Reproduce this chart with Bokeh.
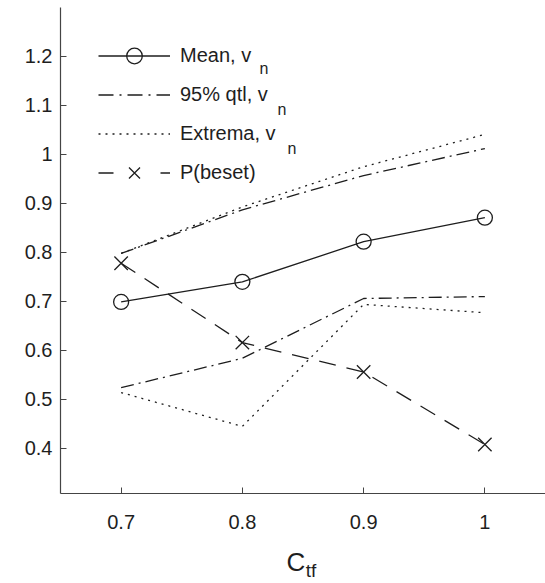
from bokeh.plotting import figure
from bokeh.models import Legend, LegendItem, Label, Range1d, FixedTicker, LinearAxis
from bokeh.embed import file_html
from bokeh.resources import INLINE

# ---- data ----
c_tf = [0.7, 0.8, 0.9, 1.0]
mean_vn = [0.699, 0.740, 0.822, 0.871]
q95_upper = [0.798, 0.887, 0.957, 1.012]
q95_lower = [0.524, 0.584, 0.706, 0.710]
ext_upper = [0.798, 0.893, 0.975, 1.041]
ext_lower = [0.514, 0.445, 0.694, 0.677]
p_beset = [0.778, 0.616, 0.556, 0.408]

x_ticks = [0.7, 0.8, 0.9, 1.0]
y_ticks = [0.4, 0.5, 0.6, 0.7, 0.8, 0.9, 1.0, 1.1, 1.2]
tick_labels = {0.7: "0.7", 0.8: "0.8", 0.9: "0.9", 1.0: "1",
               0.4: "0.4", 0.5: "0.5", 0.6: "0.6", 1.1: "1.1", 1.2: "1.2"}

FONT = "Liberation Sans"
INK = "#1e1e1e"
LW = 1.3
NAN = float("nan")
NB = "\u00a0"

p = figure(width=545, height=583, output_backend="svg", toolbar_location=None,
           x_range=Range1d(0.65, 1.05), y_range=Range1d(0.308, 1.3),
           min_border_left=60, min_border_right=0, min_border_top=7,
           min_border_bottom=89)
p.outline_line_color = None
p.xgrid.visible = False
p.ygrid.visible = False
p.background_fill_color = "white"
p.border_fill_color = "white"

for ax, ticks in ((p.xaxis[0], x_ticks), (p.yaxis[0], y_ticks)):
    ax.ticker = FixedTicker(ticks=ticks)
    ax.major_label_overrides = {t: tick_labels[t] for t in ticks}
    ax.major_tick_in = 6
    ax.major_tick_out = 0
    ax.minor_tick_line_color = None
    ax.axis_line_color = "#444444"
    ax.major_tick_line_color = "#444444"
    ax.axis_line_width = 1.2
    ax.major_label_text_font = FONT
    ax.major_label_text_font_size = "20px"
    ax.major_label_text_color = INK
p.xaxis.major_label_standoff = 21
p.yaxis.major_label_standoff = 8

# x-axis label C with subscript tf (second, label-only axis below)
xa = p.xaxis[0]
xa.axis_label = "C" + NB * 2
xa.axis_label_text_font = FONT
xa.axis_label_text_font_size = "26px"
xa.axis_label_text_font_style = "normal"
xa.axis_label_text_color = INK
xa.axis_label_standoff = 15

sub_ax = LinearAxis(ticker=FixedTicker(ticks=[]), axis_line_color=None,
                    major_tick_line_color=None, minor_tick_line_color=None,
                    major_label_text_font_size="0px",
                    axis_label=NB * 3 + "tf", axis_label_text_font=FONT,
                    axis_label_text_font_size="19px",
                    axis_label_text_font_style="normal",
                    axis_label_text_color=INK, axis_label_standoff=-20)
p.add_layout(sub_ax, "below")

# data lines
mean_line = p.line(c_tf, mean_vn, line_color=INK, line_width=LW)
mean_pts = p.scatter(c_tf, mean_vn, marker="circle", size=15, line_color=INK,
                     line_width=LW, fill_alpha=0)
dd = "13 5 2 5"
dots = "2 5"
p.line(c_tf, q95_upper, line_color=INK, line_width=LW, line_dash=dd)
p.line(c_tf, q95_lower, line_color=INK, line_width=LW, line_dash=dd)
p.line(c_tf, ext_upper, line_color=INK, line_width=LW, line_dash=dots)
p.line(c_tf, ext_lower, line_color=INK, line_width=LW, line_dash=dots)
p.line(c_tf, p_beset, line_color=INK, line_width=LW, line_dash="17 11")
p_pts = p.scatter(c_tf, p_beset, marker="x", size=19, line_color=INK, line_width=LW)

# legend-only glyph samples (no visible data)
lg_q = p.line([NAN], [NAN], line_color=INK, line_width=LW, line_dash="15 6 2 6")
lg_e = p.line([NAN], [NAN], line_color=INK, line_width=LW, line_dash=dots)
lg_p = p.line([NAN], [NAN], line_color=INK, line_width=LW, line_dash="15 47")

legend = Legend(items=[
    LegendItem(label="Mean, v", renderers=[mean_line, mean_pts]),
    LegendItem(label="95% qtl, v", renderers=[lg_q]),
    LegendItem(label="Extrema, v", renderers=[lg_e]),
    LegendItem(label="P(beset)", renderers=[lg_p, p_pts]),
], location=(38, 301), glyph_width=72, glyph_height=39, label_height=39,
   spacing=0, padding=0, margin=0, label_standoff=10,
   border_line_alpha=0, background_fill_alpha=0,
   label_text_font=FONT, label_text_font_size="20px", label_text_color=INK)
p.add_layout(legend, "center")

# subscripts in legend
for xs, ys in ((199, 425), (217, 384), (227, 345)):
    p.add_layout(Label(x=xs, y=ys, x_units="screen", y_units="screen", text="n",
                       text_font=FONT, text_font_size="16px", text_color=INK,
                       text_baseline="alphabetic"))

open("out.html", "w").write(file_html(p, INLINE))
